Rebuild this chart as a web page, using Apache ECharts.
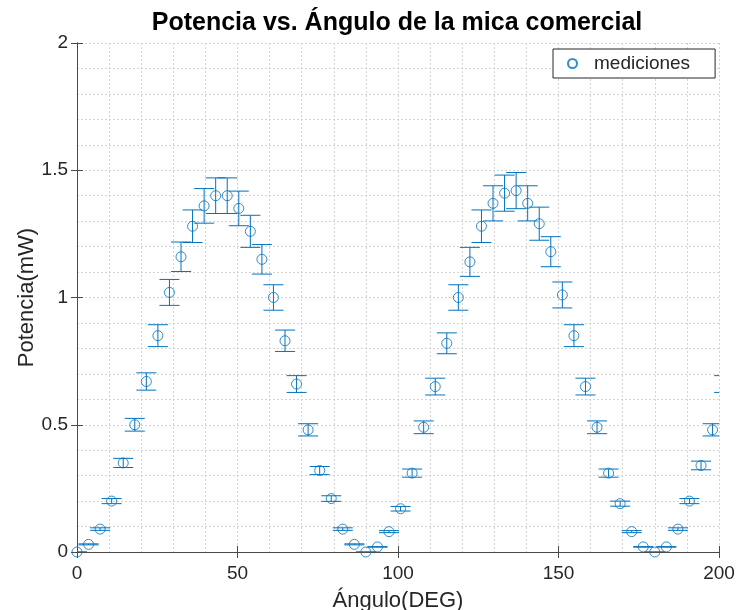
<!DOCTYPE html>
<html>
<head>
<meta charset="utf-8">
<script src="https://cdn.jsdelivr.net/npm/echarts@6/dist/echarts.min.js"></script>
<style>
html, body { margin: 0; padding: 0; background: #fff; }
#main { width: 737px; height: 610px; }
</style>
</head>
<body>
<div id="main"></div>
<script>
// angulo (grados)
var angles = [0, 3.6, 7.2, 10.8, 14.4, 18, 21.6, 25.2, 28.8, 32.4, 36, 39.6, 43.2, 46.8, 50.4,
    54, 57.6, 61.2, 64.8, 68.4, 72, 75.6, 79.2, 82.8, 86.4, 90, 93.6, 97.2, 100.8, 104.4,
    108, 111.6, 115.2, 118.8, 122.4, 126, 129.6, 133.2, 136.8, 140.4, 144, 147.6, 151.2, 154.8,
    158.4, 162, 165.6, 169.2, 172.8, 176.4, 180, 183.6, 187.2, 190.8, 194.4, 198, 201.6];
// potencia (mW)
var power = [0, 0.03, 0.09, 0.20, 0.35, 0.50, 0.67, 0.85, 1.02, 1.16, 1.28, 1.36, 1.40, 1.40, 1.35,
    1.26, 1.15, 1.00, 0.83, 0.66, 0.48, 0.32, 0.21, 0.09, 0.03, 0.00, 0.02, 0.08, 0.17, 0.31,
    0.49, 0.65, 0.82, 1.00, 1.14, 1.28, 1.37, 1.41, 1.42, 1.37, 1.29, 1.18, 1.01, 0.85,
    0.65, 0.49, 0.31, 0.19, 0.08, 0.02, 0.00, 0.02, 0.09, 0.20, 0.34, 0.48, 0.66];
// error (mW)
var errors = [0, 0.002, 0.005, 0.010, 0.018, 0.025, 0.034, 0.043, 0.051, 0.058, 0.064, 0.068, 0.070, 0.070, 0.068,
    0.063, 0.058, 0.050, 0.042, 0.033, 0.024, 0.016, 0.011, 0.005, 0.002, 0, 0.001, 0.004, 0.009, 0.016,
    0.025, 0.033, 0.041, 0.050, 0.057, 0.064, 0.069, 0.071, 0.071, 0.069, 0.065, 0.059, 0.051, 0.043,
    0.033, 0.025, 0.016, 0.010, 0.004, 0.001, 0, 0.001, 0.005, 0.010, 0.017, 0.024, 0.033];

var xTicks = { min: 0, max: 200, interval: 50 };
var yTicks = { min: 0, max: 2, interval: 0.5 };

var blue = '#0072BD';
var axisColor = '#4a4a4a';
var textColor = '#262626';
var font = 'Liberation Sans, Arial, Helvetica, sans-serif';

var points = [];
var bars = [];
for (var i = 0; i < angles.length; i++) {
    points.push([angles[i], power[i]]);
    bars.push([angles[i], power[i], errors[i]]);
}

var chart = echarts.init(document.getElementById('main'));

var gridLine = { show: true, lineStyle: { color: '#d3d3d3', type: [2, 2], width: 1 } };

var option = {
    animation: false,
    backgroundColor: '#fff',
    title: {
        text: 'Potencia vs. Ángulo de la mica comercial',
        left: 397,
        top: 11,
        padding: 0,
        textAlign: 'center',
        textStyle: { fontFamily: font, fontSize: 25, fontWeight: 'bold', color: '#000' }
    },
    legend: {
        data: ['mediciones'],
        left: 553,
        top: 49,
        padding: [5, 25, 5, 14],
        itemWidth: 9,
        itemHeight: 9,
        backgroundColor: '#fff',
        borderColor: '#262626',
        borderWidth: 1,
        borderRadius: 0,
        textStyle: { fontFamily: font, fontSize: 19, color: textColor, padding: [0, 0, 0, 12] }
    },
    grid: { left: 77, right: 18, top: 43, bottom: 58, outerBoundsMode: 'none', containLabel: false },
    xAxis: [{
        type: 'value',
        min: xTicks.min, max: xTicks.max, interval: xTicks.interval,
        name: 'Ángulo(DEG)',
        nameLocation: 'middle',
        nameGap: 38,
        nameMoveOverlap: false,
        nameTextStyle: { fontFamily: font, fontSize: 22, color: textColor },
        axisLine: { show: true, lineStyle: { color: axisColor } },
        axisTick: { show: true, inside: true, length: 6, lineStyle: { color: axisColor } },
        axisLabel: { fontFamily: font, fontSize: 19, color: textColor, margin: 12 },
        splitLine: gridLine,
        minorTick: { show: false, splitNumber: 5 },
        minorSplitLine: gridLine
    }, {
        type: 'value', position: 'top',
        min: xTicks.min, max: xTicks.max, interval: xTicks.interval,
        axisLine: { show: true, lineStyle: { color: axisColor } },
        axisTick: { show: true, inside: true, length: 6, lineStyle: { color: axisColor } },
        axisLabel: { show: false },
        splitLine: { show: false }
    }],
    yAxis: [{
        type: 'value',
        min: yTicks.min, max: yTicks.max, interval: yTicks.interval,
        name: 'Potencia(mW)',
        nameLocation: 'middle',
        nameGap: 39,
        nameMoveOverlap: false,
        nameTextStyle: { fontFamily: font, fontSize: 22, color: textColor },
        axisLine: { show: true, lineStyle: { color: axisColor } },
        axisTick: { show: true, inside: true, length: 6, lineStyle: { color: axisColor } },
        axisLabel: { fontFamily: font, fontSize: 19, color: textColor, margin: 9, padding: [10, 0, 0, 0] },
        splitLine: gridLine,
        minorTick: { show: false, splitNumber: 5 },
        minorSplitLine: gridLine
    }, {
        type: 'value', position: 'right',
        min: yTicks.min, max: yTicks.max, interval: yTicks.interval,
        axisLine: { show: true, lineStyle: { color: axisColor } },
        axisTick: { show: true, inside: true, length: 6, lineStyle: { color: axisColor } },
        axisLabel: { show: false },
        splitLine: { show: false }
    }],
    series: [
        { // barras de error
            type: 'custom',
            clip: true,
            silent: true,
            data: bars,
            renderItem: function (params, api) {
                var x = api.value(0), y = api.value(1), e = api.value(2);
                var hi = api.coord([x, y + e]);
                var lo = api.coord([x, y - e]);
                var half = 10;
                var style = { stroke: blue, lineWidth: 1 };
                return {
                    type: 'group',
                    children: [
                        { type: 'line', shape: { x1: hi[0], y1: hi[1], x2: lo[0], y2: lo[1] }, style: style },
                        { type: 'line', shape: { x1: hi[0] - half, y1: hi[1], x2: hi[0] + half, y2: hi[1] }, style: style },
                        { type: 'line', shape: { x1: lo[0] - half, y1: lo[1], x2: lo[0] + half, y2: lo[1] }, style: style }
                    ]
                };
            },
            z: 2
        },
        {
            name: 'mediciones',
            type: 'scatter',
            clip: true,
            symbol: 'circle',
            symbolSize: 10,
            itemStyle: { color: 'rgba(0,0,0,0)', borderColor: blue, borderWidth: 1 },
            data: points,
            z: 3
        }
    ]
};

chart.setOption(option);
</script>
</body>
</html>
